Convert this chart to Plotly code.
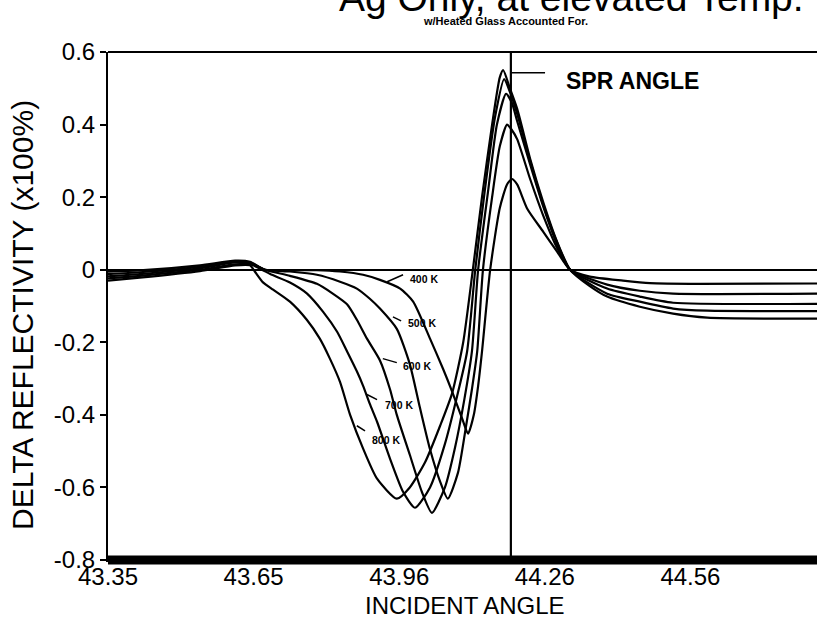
import plotly.graph_objects as go

# ---- data (incident angle, delta reflectivity) ----
x_400 = [43.350, 43.416, 43.541, 43.614, 43.645, 43.676, 43.784, 43.832, 43.880, 43.915,
         43.957, 43.984, 44.019, 44.046, 44.065, 44.086, 44.098, 44.110, 44.119, 44.127,
         44.144, 44.164, 44.179, 44.189, 44.200, 44.221, 44.254, 44.283, 44.310, 44.351,
         44.420, 44.476, 44.580, 44.823]
y_400 = [-0.005, -0.002, 0.012, 0.025, 0.022, 0.000, -0.001, -0.005, -0.014, -0.028,
         -0.052, -0.088, -0.190, -0.273, -0.336, -0.411, -0.452, -0.400, -0.320, -0.226,
         0.000, 0.170, 0.235, 0.250, 0.235, 0.168, 0.105, 0.050, 0.000, -0.019,
         -0.030, -0.037, -0.039, -0.038]

x_500 = [43.350, 43.416, 43.541, 43.614, 43.645, 43.676, 43.728, 43.784, 43.832, 43.867,
         43.894, 43.915, 43.950, 43.977, 43.998, 44.019, 44.040, 44.056, 44.077, 44.094,
         44.106, 44.117, 44.129, 44.148, 44.164, 44.179, 44.189, 44.200, 44.227, 44.254,
         44.283, 44.310, 44.387, 44.455, 44.524, 44.823]
y_500 = [-0.012, -0.007, 0.008, 0.022, 0.020, 0.000, -0.005, -0.014, -0.033, -0.052,
         -0.080, -0.107, -0.163, -0.260, -0.380, -0.495, -0.584, -0.631, -0.560, -0.430,
         -0.330, -0.226, 0.000, 0.200, 0.340, 0.400, 0.385, 0.360, 0.250, 0.150,
         0.060, 0.000, -0.041, -0.058, -0.066, -0.066]

x_600 = [43.350, 43.416, 43.541, 43.614, 43.645, 43.676, 43.728, 43.784, 43.817, 43.847,
         43.867, 43.888, 43.915, 43.936, 43.950, 43.977, 44.002, 44.023, 44.050, 44.071,
         44.090, 44.106, 44.119, 44.140, 44.158, 44.177, 44.189, 44.200, 44.227, 44.254,
         44.283, 44.310, 44.387, 44.455, 44.524, 44.823]
y_600 = [-0.018, -0.012, 0.004, 0.020, 0.018, 0.000, -0.017, -0.039, -0.066, -0.096,
         -0.138, -0.190, -0.250, -0.330, -0.400, -0.510, -0.612, -0.670, -0.600, -0.490,
         -0.360, -0.226, 0.000, 0.220, 0.400, 0.485, 0.460, 0.410, 0.290, 0.175,
         0.070, 0.000, -0.052, -0.074, -0.091, -0.094]

x_700 = [43.350, 43.416, 43.541, 43.614, 43.645, 43.670, 43.687, 43.728, 43.763, 43.797,
         43.826, 43.847, 43.867, 43.880, 43.894, 43.909, 43.936, 43.963, 43.988, 44.019,
         44.050, 44.075, 44.096, 44.113, 44.133, 44.154, 44.173, 44.185, 44.200, 44.227,
         44.254, 44.283, 44.310, 44.387, 44.455, 44.524, 44.595, 44.823]
y_700 = [-0.024, -0.017, 0.000, 0.015, 0.015, 0.000, -0.012, -0.035, -0.065, -0.116,
         -0.171, -0.226, -0.280, -0.320, -0.370, -0.419, -0.521, -0.612, -0.656, -0.600,
         -0.480, -0.350, -0.226, 0.000, 0.220, 0.420, 0.525, 0.490, 0.430, 0.300,
         0.180, 0.075, 0.000, -0.066, -0.088, -0.107, -0.113, -0.114]

x_800 = [43.350, 43.416, 43.541, 43.614, 43.645, 43.655, 43.672, 43.693, 43.728, 43.763,
         43.790, 43.811, 43.832, 43.853, 43.880, 43.909, 43.950, 43.977, 44.009, 44.040,
         44.065, 44.088, 44.108, 44.127, 44.148, 44.164, 44.171, 44.185, 44.200, 44.227,
         44.254, 44.283, 44.310, 44.351, 44.387, 44.455, 44.524, 44.595, 44.823]
y_800 = [-0.030, -0.022, -0.004, 0.012, 0.012, -0.005, -0.035, -0.055, -0.088, -0.138,
         -0.190, -0.245, -0.309, -0.400, -0.493, -0.576, -0.631, -0.600, -0.530, -0.430,
         -0.340, -0.200, 0.000, 0.200, 0.400, 0.530, 0.550, 0.500, 0.444, 0.306,
         0.187, 0.077, 0.000, -0.045, -0.074, -0.102, -0.121, -0.132, -0.135]

series_names = ["400 K", "500 K", "600 K", "700 K", "800 K"]
series_x = [x_400, x_500, x_600, x_700, x_800]
series_y = [y_400, y_500, y_600, y_700, y_800]

spr_angle = 44.187

x_tick_vals = [43.35, 43.6525, 43.955, 44.2575, 44.56]
x_tick_labels = ["43.35", "43.65", "43.96", "44.26", "44.56"]
y_tick_vals = [-0.8, -0.6, -0.4, -0.2, 0.0, 0.2, 0.4, 0.6]
y_tick_labels = ["-0.8", "-0.6", "-0.4", "-0.2", "0", "0.2", "0.4", "0.6"]

title_text = "Ag Only, at elevated Temp."
subtitle_text = "w/Heated Glass Accounted For."
x_title = "INCIDENT ANGLE"
y_title = "DELTA REFLECTIVITY (x100%)"

FONT = "Arial, Liberation Sans, Helvetica, sans-serif"

fig = go.Figure()
for name, xs, ys in zip(series_names, series_x, series_y):
    fig.add_trace(go.Scatter(x=xs, y=ys, mode="lines", name=name,
                             line=dict(color="black", width=2.2, shape="spline", smoothing=0.6),
                             hoverinfo="x+y+name"))

shapes = [
    # SPR vertical line
    dict(type="line", xref="x", yref="paper", x0=spr_angle, x1=spr_angle, y0=0, y1=1,
         line=dict(color="black", width=2.2)),
    # top border
    dict(type="line", xref="paper", yref="paper", x0=0, x1=1, y0=1, y1=1,
         line=dict(color="black", width=2)),
    # thick bottom border
    dict(type="line", xref="paper", yref="paper", x0=0, x1=1, y0=0, y1=0,
         line=dict(color="black", width=9)),
    # SPR leader
    dict(type="line", xref="x", yref="y", x0=spr_angle, x1=44.258, y0=0.543, y1=0.543,
         line=dict(color="black", width=1.5)),
]

label_pos = {  # annotation placement for curve labels and leader lines
    "400 K": ((44.007, -0.025), (43.930, -0.033, 43.963, -0.014)),
    "500 K": ((44.002, -0.146), (43.942, -0.130, 43.959, -0.141)),
    "600 K": ((43.992, -0.265), (43.921, -0.245, 43.950, -0.256)),
    "700 K": ((43.955, -0.372), (43.888, -0.344, 43.909, -0.358)),
    "800 K": ((43.928, -0.468), (43.867, -0.430, 43.884, -0.444)),
}
annotations = []
for name in series_names:
    (lx, ly), (a, b, c, d) = label_pos[name]
    annotations.append(dict(x=lx, y=ly, xref="x", yref="y", text="<b>%s</b>" % name,
                            showarrow=False, font=dict(family=FONT, size=10.5, color="black")))
    shapes.append(dict(type="line", xref="x", yref="y", x0=a, y0=b, x1=c, y1=d,
                       line=dict(color="black", width=1.5)))

annotations += [
    dict(x=44.44, y=0.52, xref="x", yref="y", text="<b>SPR ANGLE</b>", showarrow=False,
         font=dict(family=FONT, size=23, color="black")),
    dict(x=0.654, y=1, xref="paper", yref="paper", yanchor="middle", yshift=55,
         text=title_text, showarrow=False, font=dict(family=FONT, size=39, color="black")),
    dict(x=0.56, y=1, xref="paper", yref="paper", yanchor="middle", yshift=31,
         text="<b>%s</b>" % subtitle_text, showarrow=False,
         font=dict(family=FONT, size=11, color="black")),
    dict(x=0.5035, y=0, xref="paper", yref="paper", yanchor="middle", yshift=-45,
         text=x_title, showarrow=False, font=dict(family=FONT, size=24, color="black")),
    dict(x=0, y=0.5, xref="paper", yref="paper", xanchor="center", yanchor="middle",
         xshift=-86, yshift=-9, textangle=-90, text=y_title, showarrow=False,
         font=dict(family=FONT, size=30, color="black")),
]

fig.update_layout(
    width=817, height=629, autosize=False,
    margin=dict(l=108, r=0, t=52, b=69),
    paper_bgcolor="white", plot_bgcolor="white",
    showlegend=False,
    font=dict(family=FONT, color="black"),
    shapes=shapes, annotations=annotations,
    xaxis=dict(range=[43.35, 44.823], tickvals=x_tick_vals, ticktext=x_tick_labels,
               showline=True, linecolor="black", linewidth=2, ticks="",
               ticklabelstandoff=-6,
               showgrid=False, zeroline=False, tickfont=dict(family=FONT, size=24)),
    yaxis=dict(range=[-0.8, 0.6], tickvals=y_tick_vals, ticktext=y_tick_labels,
               showline=True, linecolor="black", linewidth=2, ticks="outside",
               ticklen=6, tickwidth=2, tickcolor="black",
               showgrid=False, zeroline=True, zerolinecolor="black", zerolinewidth=2,
               tickfont=dict(family=FONT, size=24)),
)

fig.write_html("out.html")
